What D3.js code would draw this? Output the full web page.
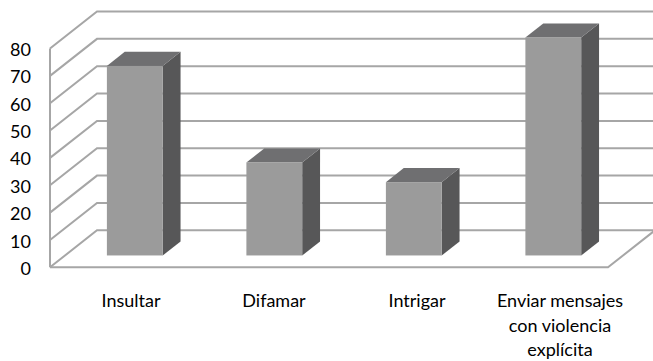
<!DOCTYPE html>
<html>
<head>
<meta charset="utf-8">
<script src="https://cdn.jsdelivr.net/npm/d3@7"></script>
<style>
  html, body { margin: 0; padding: 0; background: #fff; }
  svg { display: block; }
  text { font-family: Lato, "Open Sans", sans-serif; fill: #000; }
</style>
</head>
<body>
<svg id="chart" width="653" height="361"></svg>
<script>
// Categories and values
const categories = ["Insultar", "Difamar", "Intrigar", "Enviar mensajes con violencia explícita"];
const categoryLines = [["Insultar"], ["Difamar"], ["Intrigar"], ["Enviar mensajes", "con violencia", "explícita"]];
const values = [69.3, 34.0, 26.8, 79.7];
const tickValues = [0, 10, 20, 30, 40, 50, 60, 70, 80];

const svg = d3.select("#chart");

// Oblique 3D frame: front plane and a depth offset toward the back wall
const depth = { dx: 47, dy: -37 };
const floorLeft = 50, floorRight = 608;

const y = d3.scaleLinear().domain([0, 80]).range([267.3, 48.5]);
const x = d3.scaleBand().domain(categories).range([floorLeft, floorRight])
  .paddingInner(0.6).paddingOuter(0.3);
const labelX = d3.scalePoint().domain(categories).range([131, 560]);

const gridColor = "#a6a6a6";
const grid = svg.append("g").attr("fill", "none").attr("stroke", gridColor).attr("stroke-width", 2);

// Side wall front edge
grid.append("line")
  .attr("x1", floorLeft).attr("x2", floorLeft)
  .attr("y1", y(0)).attr("y2", y(80));

// Side wall diagonals and back wall gridlines
const backRight = floorRight + depth.dx;
tickValues.forEach(v => {
  grid.append("polyline")
    .attr("points", [
      [floorLeft, y(v)],
      [floorLeft + depth.dx, y(v) + depth.dy],
      [backRight, y(v) + depth.dy]
    ].map(p => p.join(",")).join(" "));
});

// Floor front and right edges
grid.append("polyline")
  .attr("points", [
    [floorLeft, y(0)],
    [floorRight, y(0)],
    [floorRight + depth.dx, y(0) + depth.dy]
  ].map(p => p.join(",")).join(" "));

// Bars occupy the middle slice of the depth
const f0 = 0.32, f1 = 0.70;
const bars = svg.append("g");
categories.forEach((c, i) => {
  const v = values[i];
  const x0 = x(c) + f0 * depth.dx;
  const x1 = x0 + x.bandwidth();
  const yTop = y(v) + f0 * depth.dy;
  const yBot = y(0) + f0 * depth.dy;
  const ddx = (f1 - f0) * depth.dx;
  const ddy = (f1 - f0) * depth.dy;
  const g = bars.append("g");
  // right side face
  g.append("polygon")
    .attr("points", [[x1, yTop], [x1 + ddx, yTop + ddy], [x1 + ddx, yBot + ddy], [x1, yBot]]
      .map(p => p.join(",")).join(" "))
    .attr("fill", "#575758");
  // top face
  g.append("polygon")
    .attr("points", [[x0, yTop], [x1, yTop], [x1 + ddx, yTop + ddy], [x0 + ddx, yTop + ddy]]
      .map(p => p.join(",")).join(" "))
    .attr("fill", "#6f6f71");
  // front face
  g.append("rect")
    .attr("x", x0).attr("y", yTop)
    .attr("width", x1 - x0).attr("height", yBot - yTop)
    .attr("fill", "#9b9b9b");
});

// Value axis labels
svg.append("g").selectAll("text")
  .data(tickValues).join("text")
  .attr("x", 31)
  .attr("y", d => y(d) + 3)
  .attr("text-anchor", "end")
  .attr("dominant-baseline", "middle")
  .attr("font-size", 18)
  .text(d => d);

// Category labels
const cat = svg.append("g");
categories.forEach((c, i) => {
  const t = cat.append("text")
    .attr("x", labelX(c))
    .attr("y", 307)
    .attr("text-anchor", "middle")
    .attr("font-size", 18);
  categoryLines[i].forEach((line, j) => {
    t.append("tspan").attr("x", labelX(c)).attr("dy", j === 0 ? 0 : 24.5).text(line);
  });
});
</script>
</body>
</html>
